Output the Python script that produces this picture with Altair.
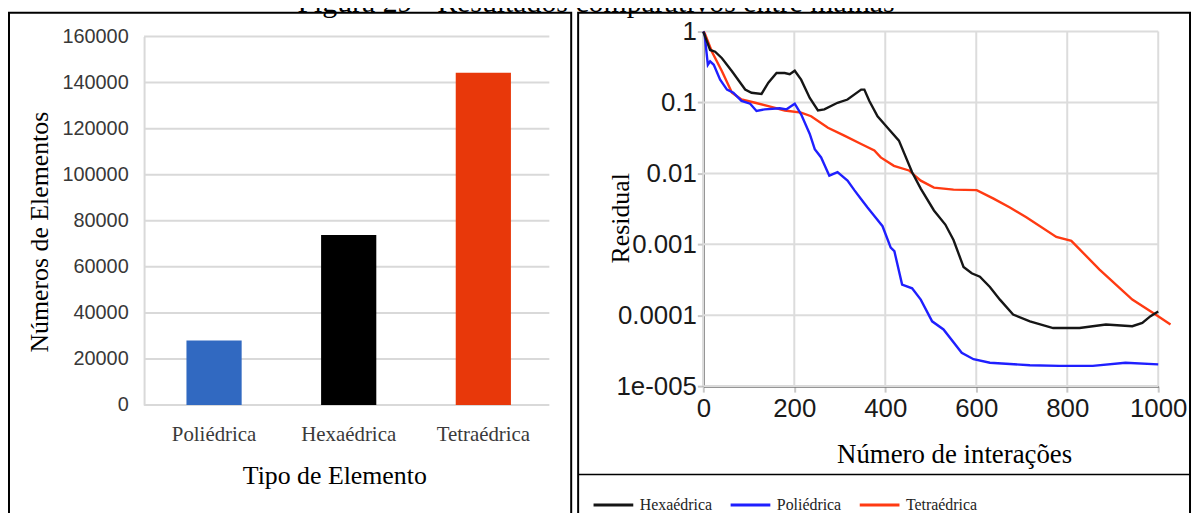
import altair as alt
import pandas as pd

# ---------------- data ----------------
tipos = ["Poliédrica", "Hexaédrica", "Tetraédrica"]
n_elementos = [28000, 73800, 144300]
cores_barras = ["#3169C1", "#000000", "#E8380A"]
ticks_barras = [0, 20000, 40000, 60000, 80000, 100000, 120000, 140000, 160000]

hex_it = [0, 4, 15, 26, 41, 63, 92, 106, 128, 143, 161, 179, 190, 201, 215,
          234, 252, 266, 295, 317, 347, 354, 365, 383, 405, 430, 459, 478, 507,
          532, 550, 572, 590, 608, 630, 652, 681, 718, 769, 827, 885, 943, 965,
          983, 1000]
hex_res = [1.0, 0.85, 0.55, 0.52, 0.42, 0.275, 0.152, 0.137, 0.132, 0.19,
           0.26, 0.26, 0.25, 0.28, 0.21, 0.116, 0.077, 0.08, 0.099, 0.11,
           0.152, 0.152, 0.105, 0.064, 0.044, 0.029, 0.0104, 0.0061, 0.003,
           0.0019, 0.00115, 0.00048, 0.00039, 0.00035, 0.00025, 0.000166,
           0.000102, 0.000082, 0.000066, 0.000066, 0.000074, 0.00007,
           0.000078, 0.000097, 0.000113]

poli_it = [0, 3, 10, 15, 23, 37, 52, 66, 84, 103, 117, 135, 168, 183, 201,
           215, 234, 245, 259, 277, 295, 317, 332, 345, 361, 376, 394, 412,
           420, 437, 459, 478, 503, 528, 568, 594, 630, 718, 783, 856, 928, 1000]
poli_res = [1.0, 0.9, 0.34, 0.38, 0.34, 0.21, 0.152, 0.137, 0.105, 0.096,
            0.076, 0.08, 0.083, 0.08, 0.096, 0.068, 0.036, 0.022, 0.0168,
            0.0093, 0.0104, 0.0079, 0.0058, 0.0045, 0.0033, 0.0025, 0.0018,
            0.0009, 0.0008, 0.00027, 0.00024, 0.000166, 0.000082, 0.000063,
            0.0000295, 0.000024, 0.0000214, 0.0000197, 0.0000193, 0.0000193,
            0.0000214, 0.0000203]

tetra_it = [0, 3, 19, 41, 63, 84, 114, 143, 179, 215, 237, 274, 310, 347, 376,
            390, 419, 452, 478, 507, 550, 601, 638, 674, 710, 776, 809, 871,
            943, 994, 1027]
tetra_res = [1.0, 0.95, 0.52, 0.275, 0.137, 0.11, 0.099, 0.089, 0.077, 0.072,
             0.064, 0.044, 0.034, 0.026, 0.021, 0.0168, 0.0128, 0.011, 0.0079,
             0.0063, 0.0059, 0.0058, 0.0044, 0.0033, 0.0024, 0.00127, 0.00112,
             0.00044, 0.000166, 0.000102, 0.000074]

series = ["Hexaédrica", "Poliédrica", "Tetraédrica"]
cores_linhas = ["#161616", "#1F1FFF", "#FF3A12"]
ticks_iter = [0, 200, 400, 600, 800, 1000]
ticks_res = [1, 0.1, 0.01, 0.001, 0.0001, 0.00001]

titulo = "Figura 29 - Resultados comparativos entre malhas"

# ---------------- frames ----------------
W, H = 1192, 505
SERIF = "Liberation Serif"
SANS = "Liberation Sans"
one = pd.DataFrame({"k": [0]})

df_bars = pd.DataFrame({"tipo": tipos, "n": n_elementos})
df_gridb = pd.DataFrame({"n": ticks_barras})

lines_rows = []
for name, its, rs in [("Tetraédrica", tetra_it, tetra_res),
                      ("Poliédrica", poli_it, poli_res),
                      ("Hexaédrica", hex_it, hex_res)]:
    for i, r in zip(its, rs):
        lines_rows.append({"serie": name, "it": i, "r": r})
df_lines = pd.DataFrame(lines_rows)
df_gridx = pd.DataFrame({"it": ticks_iter})
df_gridy = pd.DataFrame({"r": ticks_res})

# ---------------- left panel: bars ----------------
xb = alt.X("tipo:N", sort=tipos,
           scale=alt.Scale(range=[139, 547], paddingInner=0.59, paddingOuter=0.3),
           axis=alt.Axis(orient="bottom", offset=-107, domain=False, ticks=False,
                         labelAngle=0, labelFont=SERIF, labelFontSize=21,
                         labelColor="#3a3a3a", labelPadding=19, title=None, grid=False))
yb = alt.Y("n:Q",
           scale=alt.Scale(domain=[0, 160000], range=[398, 27], nice=False),
           axis=alt.Axis(orient="left", offset=-137, values=ticks_barras, format="d",
                         grid=False, ticks=False, tickSize=0, domain=True,
                         domainColor="#d9d9d9", domainWidth=2, labelFont=SANS,
                         labelFontSize=20, labelColor="#383838", labelPadding=16,
                         labelOverlap=False, labelFlush=False, title=None))

grid_b = alt.Chart(df_gridb).mark_rule(color="#d9d9d9", strokeWidth=2).encode(
    y=yb, x=alt.value(137), x2=alt.value(545))
bars = alt.Chart(df_bars).mark_bar().encode(
    x=xb, y=yb,
    color=alt.Color("tipo:N", scale=alt.Scale(domain=tipos, range=cores_barras), legend=None))
left = alt.layer(grid_b, bars)

# ---------------- right panel: residual lines ----------------
xl = alt.X("it:Q",
           scale=alt.Scale(domain=[0, 1000], range=[700, 1158], nice=False, zero=False),
           axis=alt.Axis(orient="bottom", offset=-126, values=ticks_iter, format="d",
                         grid=False, domainColor="#555555", domainWidth=2,
                         tickColor="#c8c8c8", tickSize=6, tickWidth=2,
                         labelFont=SANS, labelFontSize=26, labelColor="#1a1a1a",
                         labelPadding=4, labelFlush=False, labelOverlap=False, title=None))
yl = alt.Y("r:Q",
           scale=alt.Scale(type="log", domain=[0.00001, 1], range=[379, 22], nice=False),
           axis=alt.Axis(orient="left", offset=-700, values=ticks_res,
                         labelExpr="datum.value < 0.00005 ? '1e-005' : toString(datum.value)",
                         grid=False, domainColor="#555555", domainWidth=2,
                         tickColor="#c8c8c8", tickSize=6, tickWidth=2,
                         labelFont=SANS, labelFontSize=26, labelColor="#1a1a1a",
                         labelPadding=1, labelFlush=False, labelOverlap=False, title=None))

grid_vx = alt.Chart(df_gridx).mark_rule(color="#dcdcdc", strokeWidth=2).encode(
    x=xl, y=alt.value(22), y2=alt.value(379))
grid_hy = alt.Chart(df_gridy).mark_rule(color="#dcdcdc", strokeWidth=2).encode(
    y=yl, x=alt.value(700), x2=alt.value(1158))
lines = alt.Chart(df_lines).mark_line(strokeWidth=2.4).encode(
    x=xl, y=yl,
    color=alt.Color("serie:N", scale=alt.Scale(domain=series, range=cores_linhas),
                    legend=alt.Legend(orient="none", legendX=588, legendY=477,
                                      direction="horizontal", title=None,
                                      symbolType="stroke", symbolSize=1600,
                                      symbolStrokeWidth=3, labelFont=SERIF,
                                      labelFontSize=16, labelColor="#222222",
                                      labelOffset=5, columnPadding=12, padding=0)),
    detail="serie:N")
right = alt.layer(grid_vx, grid_hy, lines)

# ---------------- text & frames ----------------
def txt(s, x, y, size=25, angle=0, baseline="middle", font=SERIF):
    return alt.Chart(one).mark_text(text=s, font=font, fontSize=size, angle=angle,
                                    align="center", baseline=baseline,
                                    color="#000000").encode(x=alt.value(x), y=alt.value(y))

t_title = txt(titulo, 592, 2, size=30, baseline="alphabetic")
t_ylb = txt("Números de Elementos", 32, 224, size=26, angle=270)
t_xlb = txt("Tipo de Elemento", 329, 470, size=26)
t_yll = txt("Residual", 617, 210, size=26, angle=270)
t_xll = txt("Número de interações", 953, 448, size=27)

frame_l = alt.Chart(one).mark_rect(filled=False, stroke="#000000", strokeWidth=2).encode(
    x=alt.value(1), x2=alt.value(567), y=alt.value(3), y2=alt.value(530))
frame_r = alt.Chart(one).mark_rect(filled=False, stroke="#000000", strokeWidth=2).encode(
    x=alt.value(574), x2=alt.value(1190), y=alt.value(3), y2=alt.value(530))
sep_r = alt.Chart(one).mark_rule(color="#000000", strokeWidth=1.5).encode(
    x=alt.value(574), x2=alt.value(1190), y=alt.value(468))

chart = alt.layer(
    left, right, frame_l, frame_r, sep_r,
    t_title, t_ylb, t_xlb, t_yll, t_xll
).resolve_scale(
    x="independent", y="independent", color="independent"
).properties(
    width=W, height=H, padding=0,
    autosize=alt.AutoSizeParams(type="none"),
    background="white"
).configure_view(stroke=None)

chart.save("out.html", embed_options={"renderer": "svg", "actions": False})
